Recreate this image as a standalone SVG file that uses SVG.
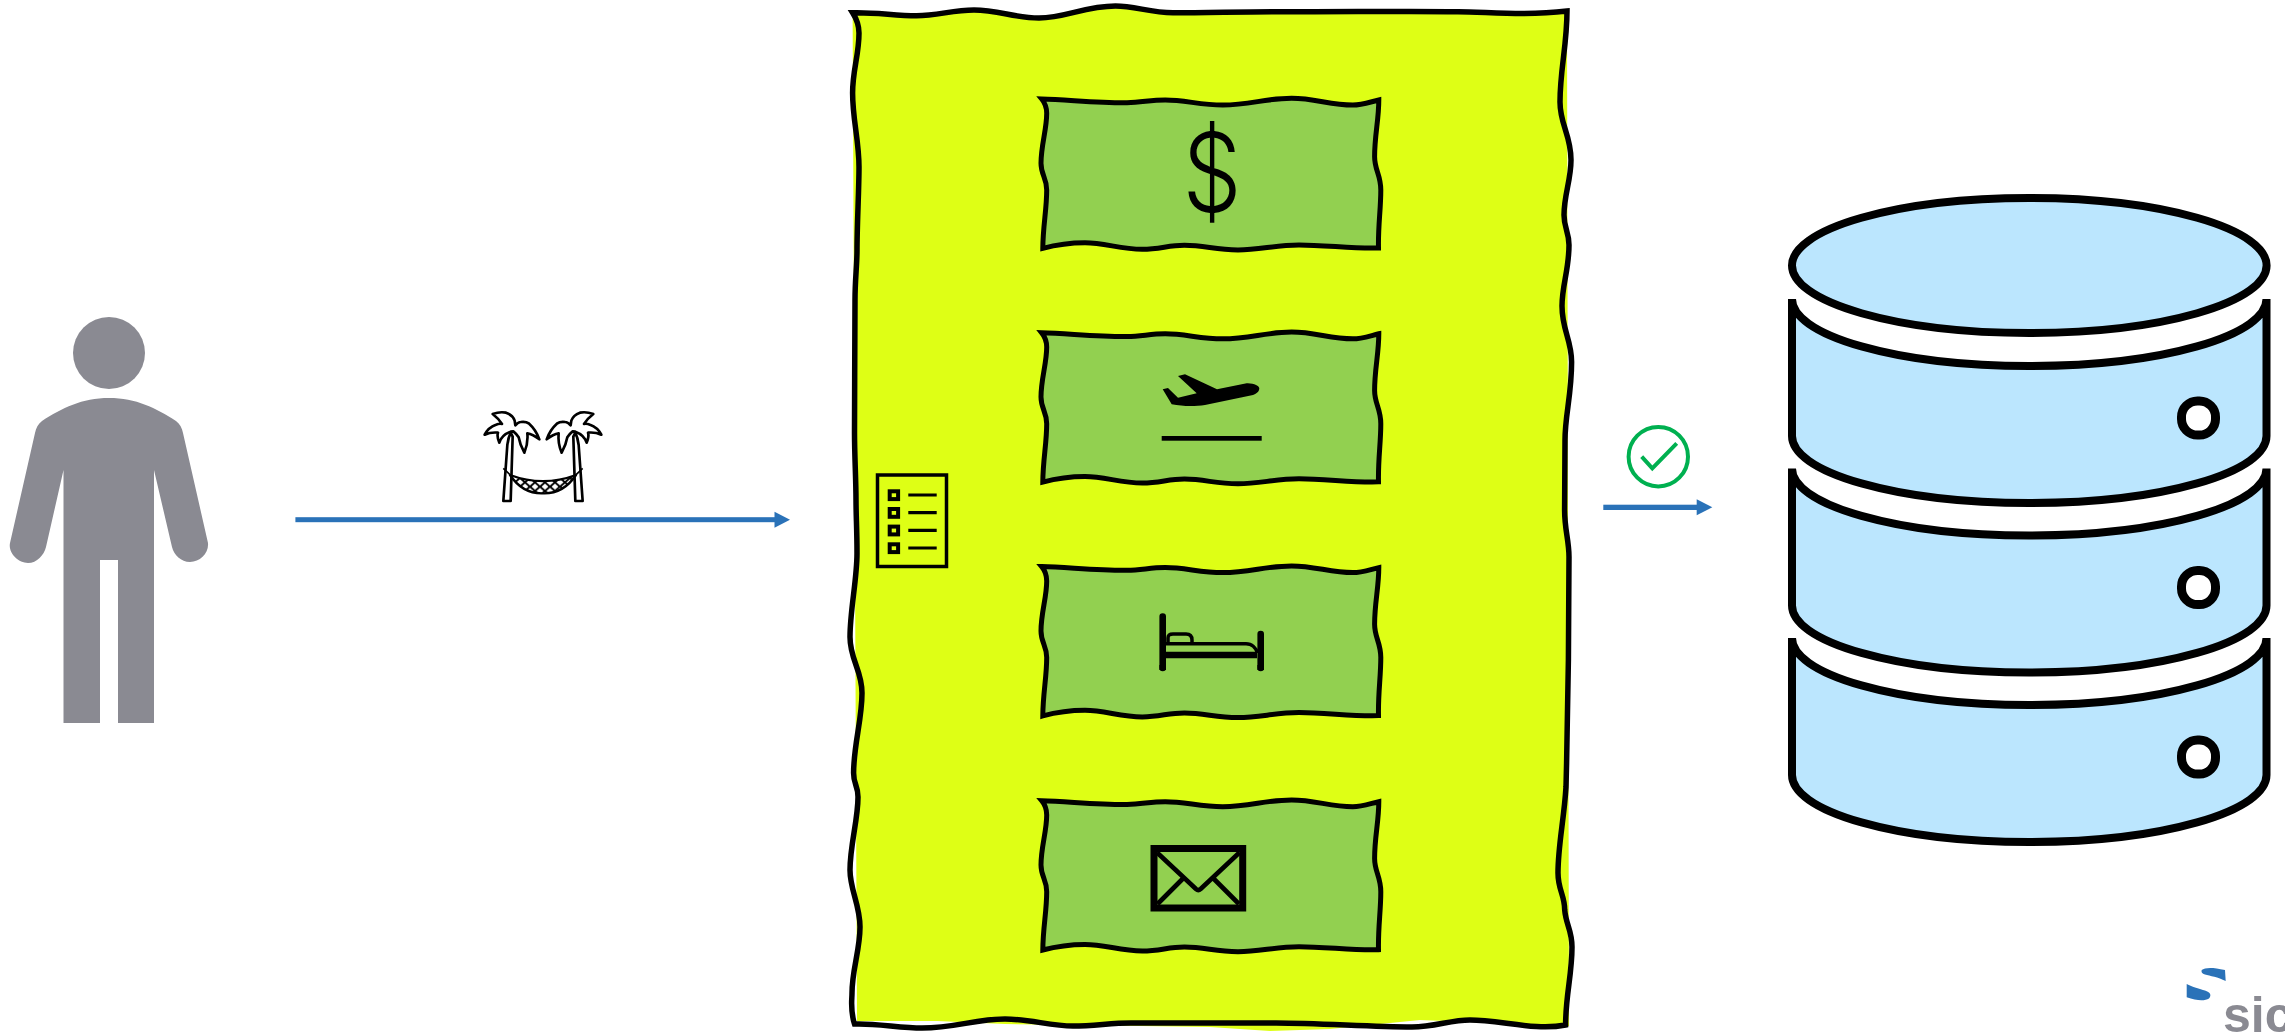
<svg xmlns="http://www.w3.org/2000/svg" width="2285" height="1032" viewBox="0 0 2285 1032">
<style>
.pal{fill:#fff;stroke:#000;stroke-width:8;stroke-linejoin:round}
.card{fill:#92D050;stroke:#000;stroke-width:5;stroke-linejoin:miter}
.seg{fill:#BBE6FE;stroke:#000;stroke-width:8;stroke-linejoin:bevel}
.hole{fill:#fff;stroke:#000;stroke-width:9}
.blue{fill:#2A72B8}
.ln{stroke:#000;fill:none}
.txt{font-family:"Liberation Sans",Arial,sans-serif}
</style>
<defs>
<path id="wave" class="card" d="M1041.7,99 C1070,100 1100,103 1127,102.7 C1142,102.5 1150,100 1165.3,100 C1185,100 1200,105 1222.7,105 C1250,105 1265,98.3 1291.6,98.3 C1315,98.3 1330,105 1352.8,105 C1362,105 1370,102 1378.8,100 C1378.8,120 1374.6,135 1374.6,156.7 C1374.6,170 1380.8,175 1380.8,190 C1380.8,210 1378,225 1378.5,248 C1355,249 1325,245 1299,245 C1275,245 1260,250 1238,250 C1215,250 1205,245.3 1184.4,245.3 C1168,245.3 1160,249.3 1142.3,249.3 C1120,249.3 1105,242.7 1085,242.7 C1068,242.7 1055,245 1042.8,248.3 C1043,225 1046.7,210 1046.7,190 C1046.7,178 1041,175 1041,163.3 C1041,145 1046.7,130 1046.7,113.3 C1046.7,107 1045,103 1041.7,99 Z"/>
<path id="dbseg" class="seg" d="M1792,299 V436 A237.2,67 0 0 0 2266.5,436 V299 A237.2,67 0 0 1 1792,299 Z"/>
<rect id="dbhole" class="hole" x="2181.5" y="401" width="34" height="34" rx="16"/>
<path id="crown" class="pal" d="M122 95 Q95 105 88 128 Q80 110 84 98 Q62 96 44 104 Q55 82 78 74 Q88 70 96 72 Q85 55 68 42 Q90 34 108 38 Q128 45 134 62 L136 76 Q145 66 152 66 Q168 64 176 70 Q198 90 208 118 Q188 102 172 100 Q175 130 163 158 Q150 135 146 112 Q138 100 130 94 Z"/>
<path id="trunk" class="pal" d="M100 303 L112 135 Q115 112 122 98 L128 110 L122 303 Z"/>
<pattern id="net" patternUnits="userSpaceOnUse" width="30" height="26">
<rect width="30" height="26" fill="#fff"/>
<path d="M0 0L30 26M30 0L0 26" stroke="#000" stroke-width="6"/>
</pattern>
</defs>

<g id="person">
<ellipse cx="109" cy="353" rx="36" ry="36" fill="#8A8A92"/>
<path fill="#8A8A92" d="M109 398 C82 398 62 408 42 421 C38 424 36 428 35 433 L10 543 C8 553 18 563 28 563 C37 563 44 555 46 547 L63.5 470 V723 H100 V560 H118 V723 H154 V470 L172 547 C174 555 181 562 190 562 C200 562 209 553 208 543 L183 433 C182 428 180 424 176 421 C156 408 136 398 109 398 Z"/>
</g>

<g id="hammock-icon" transform="translate(470 400) scale(.3333)">
<use href="#trunk"/>
<use href="#crown"/>
<g transform="translate(438 0) scale(-1 1)">
<use href="#trunk"/>
<use href="#crown"/>
</g>
<path d="M120 225 Q219 262 318 225 Q280 282 219 280 Q158 282 120 225 Z" fill="url(#net)" stroke="#000" stroke-width="7" stroke-linejoin="round"/>
<path class="ln" stroke-width="5" d="M100 205 L122 226 M338 205 L316 226"/>
</g>

<g id="connectors">
<rect class="blue" x="295.4" y="517.2" width="480" height="5"/>
<polygon class="blue" points="774.5,511.7 790,519.7 774.5,527.7"/>
<rect class="blue" x="1603.3" y="504.7" width="94" height="5.3"/>
<polygon class="blue" points="1696.7,499.3 1712.3,507.3 1696.7,515.3"/>
</g>

<g id="process">
<path fill="#DEFF15" d="M852.6,12.7 C875,12 895,15.7 916.5,15.7 C938,15.7 952,10 974,10 C998,10 1015,18 1039,18 C1065,18 1085,6 1115.5,6 C1135,6 1150,12.7 1173,12.7 C1210,12.7 1245,11.5 1280,11.7 C1340,12 1400,11 1458,11.7 C1490,12 1525,16 1567,11 L1569,1026 L1470,1022 L1420,1020 L1330,1029 L1270,1031 L1210,1027 L1005,1024 L937,1021 L857,1021 Z"/>
<path fill="none" stroke="#000" stroke-width="5.5" d="M852.6,12.7 C875,12 895,15.7 916.5,15.7 C938,15.7 952,10 974,10 C998,10 1015,18 1039,18 C1065,18 1085,6 1115.5,6 C1135,6 1150,12.7 1173,12.7 C1210,12.7 1245,11.5 1280,11.7 C1340,12 1400,11 1458,11.7 C1490,12 1525,16 1567,11 C1567,45 1560,70 1560,102 C1560,125 1571,135 1571,160 C1571,180 1564,195 1564,215 C1564,228 1569,232 1569,245 C1569,270 1562,285 1562,306 C1562,330 1571.6,340 1571.6,362 C1571.6,395 1565,415 1565,440 C1565,470 1564.6,490 1564.6,510 C1564.6,530 1569,540 1569,557 C1569,640 1568,710 1566,787 C1564,820 1558,845 1558,873 C1558,890 1564.7,895 1564.7,910 C1566,925 1572,930 1572,947 C1572,975 1565.6,995 1565.6,1025 C1535,1031 1500,1020 1470,1020 C1450,1020 1435,1027 1412,1027 C1370,1027 1320,1023 1276,1023 C1230,1023 1180,1023 1131,1023 C1110,1023 1095,1026 1073,1026 C1050,1026 1030,1019 1005,1019 C975,1019 955,1028 922,1028 C900,1028 875,1023 854.5,1024 C850,1010 852,1000 852,993 C852,970 860,950 860,927 C860,905 850,890 850,870 C850,845 858,820 858,797 C858,785 853.6,785 853.6,773 C853.6,745 862,720 862,693 C862,670 850,660 850,637 C850,610 857,580 857,553 C857,530 856,515 856,500 C856,480 854.5,455 854.5,433 C854.5,390 855,340 855,300 C855,280 857,265 857,250 C857,225 859,190 859,167 C859,140 852.6,120 852.6,93 C852.6,70 859,55 859,33 C859,25 856,18 852.6,12.7 Z"/>
</g>

<g id="checklist">
<rect class="ln" stroke-width="3.5" x="877.5" y="475" width="69" height="91.5"/>
<g fill="none" stroke="#000" stroke-width="4">
<rect x="889.7" y="491.3" width="8.4" height="7.8"/>
<rect x="889.7" y="509" width="8.4" height="7.8"/>
<rect x="889.7" y="526.6" width="8.4" height="7.8"/>
<rect x="889.7" y="544.3" width="8.4" height="7.8"/>
</g>
<path class="ln" stroke-width="3.2" d="M908.3 495H936.7M908.3 512.7H936.7M908.3 530.3H936.7M908.3 548H936.7"/>
</g>

<g id="card-money">
<use href="#wave"/>
<text transform="translate(1212 212) scale(.85 1)" text-anchor="middle" font-size="110" font-weight="300" style="font-family:Inter,'Liberation Sans',sans-serif">$</text>
</g>

<g id="card-flight">
<use href="#wave" y="233.8"/>
<path d="M1162.7,389.3 L1168,388 L1178,397.7 L1196.7,393.3 L1178,376 L1185,374.3 L1217,389.3 L1246.7,383.3 C1254,383 1259.3,386 1259.3,388.3 C1259.3,392 1256,394 1253,395 L1205,405 C1195,406.5 1183,406.5 1171.7,404.3 Z"/>
<rect x="1161.7" y="436" width="100" height="4.7"/>
</g>

<g id="card-hotel">
<use href="#wave" y="467.6"/>
<path class="ln" stroke-width="6.6" stroke-linecap="round" d="M1162.7 616.5V668M1260.7 634V668"/>
<rect x="1159.4" y="665" width="6.6" height="5"/>
<rect x="1257.4" y="665" width="6.6" height="5"/>
<path class="ln" stroke-width="6.6" d="M1166 655H1257"/>
<path class="ln" stroke-width="3.5" d="M1166 643.7H1246C1252 643.7 1256 648 1257.5 653"/>
<path class="ln" stroke-width="3.5" d="M1168 642.5V638C1168 634.5 1170 634 1173 634H1186C1190 634 1192 636 1192 640V643"/>
</g>

<g id="card-mail">
<use href="#wave" y="701.7"/>
<rect class="ln" stroke-width="7" x="1154" y="848.5" width="88.7" height="59.5"/>
<path class="ln" stroke-width="4.6" stroke-linejoin="round" d="M1157 852.5L1196 889 Q1198.3 891 1200.6 889L1239.5 852.5M1183.5 878L1157.5 904M1213 878L1239 904"/>
</g>

<g id="check">
<circle cx="1658.3" cy="456.7" r="29.7" fill="none" stroke="#00B050" stroke-width="4"/>
<path fill="none" stroke="#00B050" stroke-width="4" d="M1641.7,456.7 L1652.3,468.3 L1676.7,443.3"/>
</g>

<g id="database">
<ellipse cx="2029.3" cy="265.5" rx="237.3" ry="67.5" fill="#BBE6FE" stroke="#000" stroke-width="8"/>
<use href="#dbseg"/>
<use href="#dbseg" y="169.5"/>
<use href="#dbseg" y="339"/>
<use href="#dbhole"/>
<use href="#dbhole" y="169.5"/>
<use href="#dbhole" y="339"/>
</g>

<g id="logo">
<path class="blue" d="M2201.7,970 C2205,967.5 2212,967 2225,970 L2225.7,981 C2218,977 2210,976 2205,974.5 C2202,973.5 2201,972 2201.7,970 Z"/>
<path class="blue" d="M2186.7,984 C2192,987 2200,989 2205,990.5 C2210,992 2212,995 2209,998.5 C2205,1001 2197,1001 2186.7,997.3 Z"/>
<text class="txt" x="2223" y="1032" font-size="50" font-weight="700" fill="#8A8A92">sic</text>
</g>
</svg>
